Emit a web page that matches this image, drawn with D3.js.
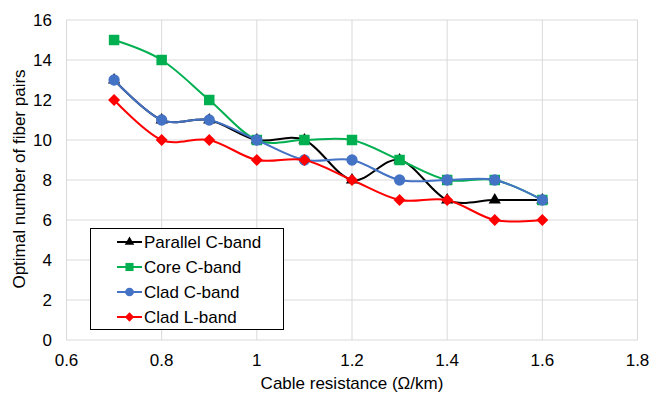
<!DOCTYPE html>
<html>
<head>
<meta charset="utf-8">
<script src="https://cdn.jsdelivr.net/npm/d3@7"></script>
<style>
  body { margin: 0; background: #fff; }
  text { font-family: "Liberation Sans", Arial, sans-serif; fill: #000; }
</style>
</head>
<body>
<script>
var width = 652, height = 393;

// data
var resistance = [0.7, 0.8, 0.9, 1.0, 1.1, 1.2, 1.3, 1.4, 1.5, 1.6];
var parallelC = [13, 11, 11, 10, 10, 8, 9, 7, 7, 7];
var coreC = [15, 14, 12, 10, 10, 10, 9, 8, 8, 7];
var cladC = [13, 11, 11, 10, 9, 9, 8, 8, 8, 7];
var cladL = [12, 10, 10, 9, 9, 8, 7, 7, 6, 6];
var xTicks = [0.6, 0.8, 1.0, 1.2, 1.4, 1.6, 1.8];
var yTicks = [0, 2, 4, 6, 8, 10, 12, 14, 16];

// diamond = square turned by 45 degrees
var series = [
  {name: "Parallel C-band", values: parallelC, color: "#000000", marker: d3.symbolTriangle, size: 65, rot: 0},
  {name: "Core C-band", values: coreC, color: "#00b050", marker: d3.symbolSquare, size: 110, rot: 0},
  {name: "Clad C-band", values: cladC, color: "#4472c4", marker: d3.symbolCircle, size: 100, rot: 0},
  {name: "Clad L-band", values: cladL, color: "#ff0000", marker: d3.symbolSquare, size: 72, rot: 45}
];

var svg = d3.select("body").append("svg").attr("width", width).attr("height", height);

var x = d3.scaleLinear().domain([0.6, 1.8]).range([66.5, 637.5]);
var y = d3.scaleLinear().domain([0, 16]).range([340, 20]);

// grid
svg.append("g").selectAll("line").data(yTicks).join("line")
  .attr("x1", x(0.6)).attr("x2", x(1.8))
  .attr("y1", d => y(d)).attr("y2", d => y(d))
  .attr("stroke", "#d9d9d9").attr("stroke-width", 1);
svg.append("g").selectAll("line").data(xTicks).join("line")
  .attr("x1", d => x(d)).attr("x2", d => x(d))
  .attr("y1", y(0)).attr("y2", y(16))
  .attr("stroke", "#d9d9d9").attr("stroke-width", 1);

// tick labels
svg.append("g").selectAll("text").data(yTicks).join("text")
  .attr("x", 52).attr("y", d => y(d) + 6)
  .attr("text-anchor", "end").attr("font-size", 17)
  .text(d => d);
svg.append("g").selectAll("text").data(xTicks).join("text")
  .attr("x", d => x(d)).attr("y", 366)
  .attr("text-anchor", "middle").attr("font-size", 17)
  .text(d => d);

// axis titles
svg.append("text").attr("x", 352).attr("y", 389)
  .attr("text-anchor", "middle").attr("font-size", 17)
  .text("Cable resistance (Ω/km)");
svg.append("text")
  .attr("transform", "translate(25,179) rotate(-90)")
  .attr("text-anchor", "middle").attr("font-size", 17)
  .text("Optimal number of fiber pairs");

var line = d3.line()
  .x((d, i) => x(resistance[i]))
  .y(d => y(d))
  .curve(d3.curveCardinal.tension(0));

series.forEach(function(s) {
  var g = svg.append("g");
  g.append("path").attr("d", line(s.values))
    .attr("fill", "none").attr("stroke", s.color).attr("stroke-width", 2);
  g.selectAll("path.m").data(s.values).join("path").attr("class", "m")
    .attr("transform", (d, i) => "translate(" + x(resistance[i]) + "," + y(d) + ") rotate(" + s.rot + ")")
    .attr("d", d3.symbol().type(s.marker).size(s.size))
    .attr("fill", s.color);
});

// legend
var lg = svg.append("g");
lg.append("rect").attr("x", 90.5).attr("y", 228.5).attr("width", 193).attr("height", 101)
  .attr("fill", "#fff").attr("stroke", "#000").attr("stroke-width", 1);
series.forEach(function(s, i) {
  var ly = 242 + i * 25;
  lg.append("line").attr("x1", 117).attr("x2", 142).attr("y1", ly).attr("y2", ly)
    .attr("stroke", s.color).attr("stroke-width", 2);
  lg.append("path").attr("transform", "translate(129.5," + ly + ") rotate(" + s.rot + ")")
    .attr("d", d3.symbol().type(s.marker).size(s.size * 0.6))
    .attr("fill", s.color);
  lg.append("text").attr("x", 144).attr("y", ly + 6).attr("font-size", 17).text(s.name);
});
</script>
</body>
</html>
